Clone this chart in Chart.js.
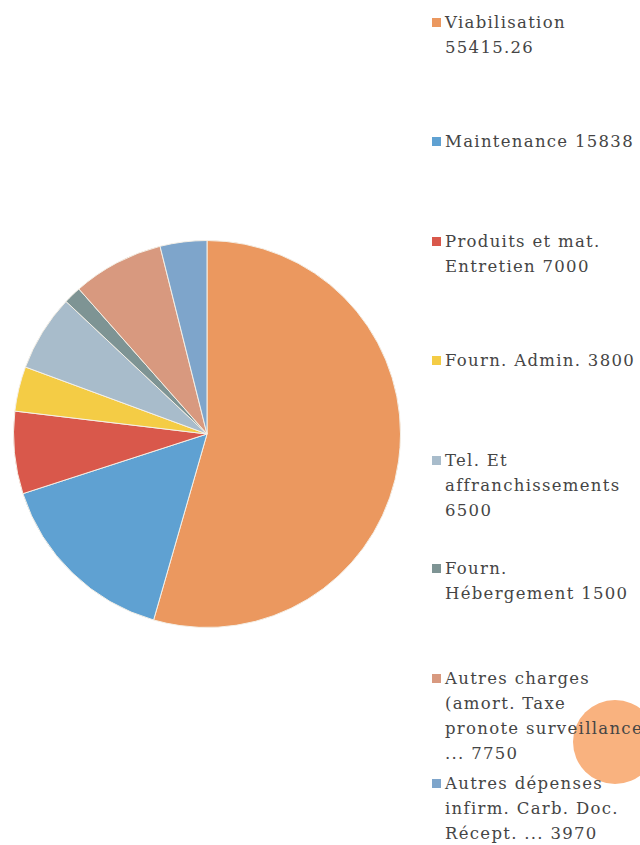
<!DOCTYPE html>
<html>
<head>
<meta charset="utf-8">
<script src="https://cdn.jsdelivr.net/npm/chart.js@4"></script>
<style>
  body { margin: 0; background: #fff; width: 640px; height: 845px; overflow: hidden; position: relative; }
  #pieBox { position: absolute; left: 13px; top: 240px; width: 388px; height: 388px; }
  #legend { position: absolute; left: 0; top: 0; z-index: 2; }
  .item { position: absolute; left: 432px; font-family: "DejaVu Serif", serif; font-size: 16.5px;
          letter-spacing: 1.3px; line-height: 25px; color: #454545; white-space: pre; }
  .sw { position: absolute; left: 0; top: 8px; width: 9px; height: 9px; }
  .txt { position: absolute; left: 13px; top: 0; }
  #blob { position: absolute; left: 573px; top: 700px; width: 84px; height: 84px; border-radius: 50%;
          background: #f9b27f; z-index: 1; }
</style>
</head>
<body>
<div id="pieBox"><canvas id="pie"></canvas></div>
<div id="blob"></div>
<div id="legend"></div>
<script>
// postes de dépenses
const categories = [
  'Viabilisation',
  'Maintenance',
  'Produits et mat. Entretien',
  'Fourn. Admin.',
  'Tel. Et affranchissements',
  'Fourn. Hébergement',
  'Autres charges (amort. Taxe pronote surveillance ...',
  'Autres dépenses infirm. Carb. Doc. Récept. ...'
];
const values = [55415.26, 15838, 7000, 3800, 6500, 1500, 7750, 3970];
// how the legend text wraps in the picture
const legendLines = [
  ['Viabilisation', '55415.26'],
  ['Maintenance 15838'],
  ['Produits et mat.', 'Entretien 7000'],
  ['Fourn. Admin. 3800'],
  ['Tel. Et', 'affranchissements', '6500'],
  ['Fourn.', 'Hébergement 1500'],
  ['Autres charges', '(amort. Taxe', 'pronote surveillance', '... 7750'],
  ['Autres dépenses', 'infirm. Carb. Doc.', 'Récept. ... 3970']
];
const colors = ['#eb985f', '#5fa1d2', '#d9584b', '#f4cc45', '#a8bccb', '#7e9494', '#d8997f', '#7ea5cb'];
const legendTops = [10, 129, 229, 348, 448, 556, 666, 771];

new Chart(document.getElementById('pie'), {
  type: 'pie',
  data: {
    labels: categories,
    datasets: [{
      data: values,
      backgroundColor: colors,
      borderColor: '#f4efe6',
      borderWidth: 1
    }]
  },
  options: {
    responsive: true,
    maintainAspectRatio: false,
    animation: false,
    layout: { padding: 0 },
    plugins: { legend: { display: false }, tooltip: { enabled: false } }
  }
});

// legend built from the same arrays
const leg = document.getElementById('legend');
legendLines.forEach((lines, i) => {
  const d = document.createElement('div');
  d.className = 'item';
  d.style.top = legendTops[i] + 'px';
  d.innerHTML = '<div class="sw" style="background:' + colors[i] + '"></div><div class="txt"></div>';
  d.querySelector('.txt').textContent = lines.join('\n');
  leg.appendChild(d);
});
</script>
</body>
</html>
